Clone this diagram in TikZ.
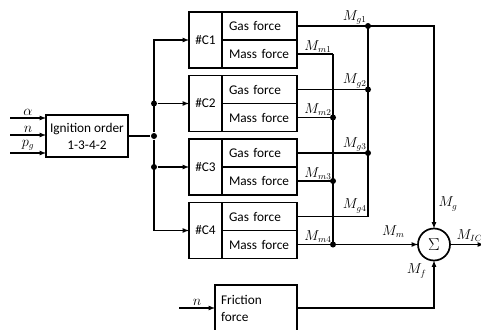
\documentclass[tikz,border=0pt]{standalone}
\usepackage{fontspec}
\setmainfont{Carlito}
\usepackage{amsmath}
\usetikzlibrary{arrows,positioning}

\begin{document}
\begin{tikzpicture}[x=1pt, y=-1pt, >=latex, line width=1.2pt,
	font=\fontsize{13.3}{17}\selectfont,
	blk/.style={rectangle, draw, line width=1.7pt, outer sep=0pt, inner sep=0pt},
	cyl/.style={blk, minimum width=33pt, minimum height=56pt},
	frc/.style={blk, minimum height=28pt, text width=61pt, inner xsep=7pt, align=left, anchor=north west},
	dot/.style={circle, fill, inner sep=0pt, minimum size=6pt},
	sig/.style={inner sep=1pt}]
	
	\useasboundingbox (0,0) rectangle (481,329);
	
	\node[blk, minimum width=82pt, minimum height=42pt, align=center] (ign) at (87,136) {Ignition order\\1-3-4-2};
	
	\node[cyl] (c1) at (205.5,40) {\#C1};
	\node[frc] (g1) at (c1.north east) {Gas force};
	\node[frc] (m1) at (g1.south west) {Mass force};
	\node[cyl, below=7.5pt of c1] (c2) {\#C2};
	\node[frc] (g2) at (c2.north east) {Gas force};
	\node[frc] (m2) at (g2.south west) {Mass force};
	\node[cyl, below=7.5pt of c2] (c3) {\#C3};
	\node[frc] (g3) at (c3.north east) {Gas force};
	\node[frc] (m3) at (g3.south west) {Mass force};
	\node[cyl, below=7.5pt of c3] (c4) {\#C4};
	\node[frc] (g4) at (c4.north east) {Gas force};
	\node[frc] (m4) at (g4.south west) {Mass force};
	
	\node[blk, minimum height=46pt, text width=70pt, inner xsep=6pt, align=left] (fr) at (256,308) {Friction\\force};
	
	\coordinate (sx) at (434,0);
	\node[blk, circle, minimum size=32pt] (sum) at (sx |- m4.east) {\fontsize{19}{20}\selectfont$\Sigma$};
	
	% inputs
	\coordinate (ia) at (10,118);
	\coordinate (in) at (10,135);
	\coordinate (ip) at (10,153);
	\draw [->] (ia) -- (ia -| ign.west) node[midway, above=1pt, sig] (la) {$\alpha$};
	\draw [->] (in) -- (in -| ign.west) node[midway, above=1pt, sig] (ln) {$n$};
	\draw [->] (ip) -- (ip -| ign.west) node[midway, above=1pt, sig] (lp) {$p_g$};
	
	% ignition bus
	\coordinate (bx) at (154,0);
	\node[dot] (jI) at (bx |- ign.east) {};
	\node[dot] (j2) at (bx |- c2.west) {};
	\node[dot] (j3) at (bx |- c3.west) {};
	\draw (ign.east) -- (jI);
	\draw [->] (jI) |- (c1.west);
	\draw [->] (jI) |- (c4.west);
	\draw [->] (j2) -- (c2.west);
	\draw [->] (j3) -- (c3.west);
	
	% gas force bus
	\coordinate (gx) at (368,0);
	\node[dot] (jg1) at (gx |- g1.east) {};
	\node[dot] (jg2) at (gx |- g2.east) {};
	\node[dot] (jg3) at (gx |- g3.east) {};
	\coordinate (jg4) at (gx |- g4.east);
	\draw (g1.east) -- (jg1.center) node[sig, above left] (lg1) {$M_{g1}$};
	\draw (g2.east) -- (jg2.center) node[sig, above left] (lg2) {$M_{g2}$};
	\draw (g3.east) -- (jg3.center) node[sig, above left] (lg3) {$M_{g3}$};
	\draw (g4.east) -- (jg4) node[sig, above left=2pt and 0pt] (lg4) {$M_{g4}$};
	\draw (jg1.center) -- (jg4);
	\draw [->] (jg1.center) -| (sum.north);
	
	% mass force bus
	\coordinate (mx) at (333,0);
	\coordinate (jm1) at (mx |- m1.east);
	\node[dot] (jm2) at (mx |- m2.east) {};
	\node[dot] (jm3) at (mx |- m3.east) {};
	\node[dot] (jm4) at (mx |- m4.east) {};
	\draw (m1.east) -- (jm1) node[sig, above left] (lm1) {$M_{m1}$};
	\draw (m2.east) -- (jm2.center) node[sig, above left] (lm2) {$M_{m2}$};
	\draw (m3.east) -- (jm3.center) node[sig, above left] (lm3) {$M_{m3}$};
	\draw (m4.east) -- (jm4.center) node[sig, above left] (lm4) {$M_{m4}$};
	\draw (jm1) -- (jm4.center);
	\draw [->] (jm4.center) -- (sum.west);
	
	% friction
	\coordinate (nf) at (179,308);
	\draw [->] (nf) -- (fr.west) node[midway, above=1pt, sig] (lnf) {$n$};
	\draw [->] (fr.east) -| (sum.south);
	
	% output
	\coordinate (out) at (484,0);
	\draw [->] (sum.east) -- (out |- sum.east);
	
	\node[sig, above right=16pt and 3pt of sum.north] (lMg) {$M_g$};
	\node[sig, above left=5pt and 12pt of sum.west] (lMm) {$M_m$};
	\node[sig, below left=2pt and 6pt of sum.south] (lMf) {$M_f$};
	\node[sig, above right=1pt and 5pt of sum.east] (lMic) {$M_{IC}$};
	
\end{tikzpicture}
\end{document}
